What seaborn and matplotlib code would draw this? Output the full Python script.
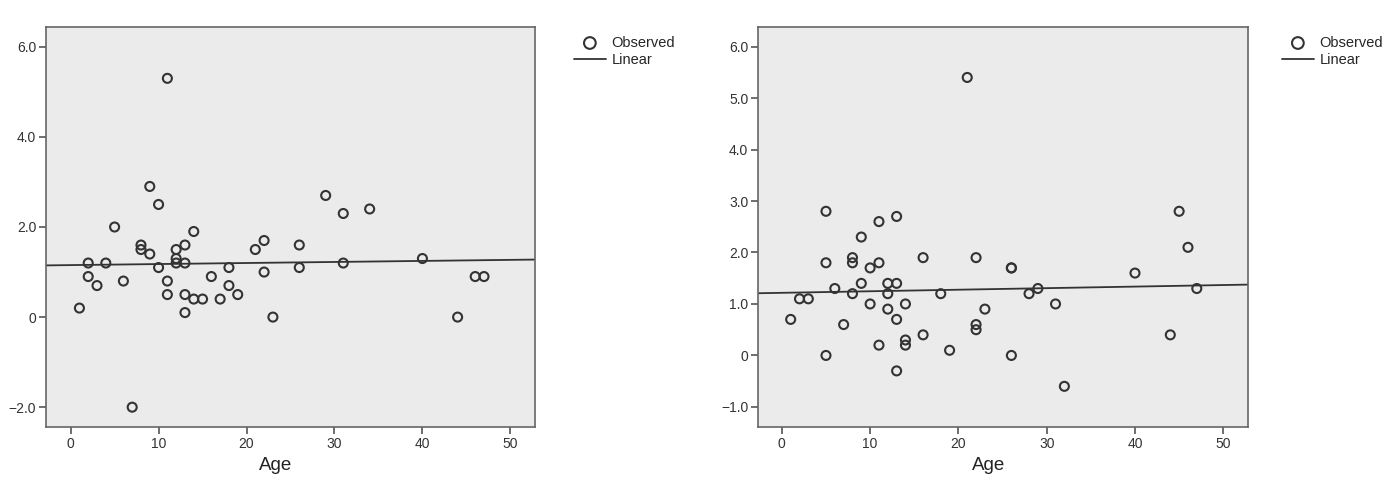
import numpy as np
import pandas as pd
import matplotlib
matplotlib.use("Agg")
import matplotlib.pyplot as plt
import seaborn as sns

# Left panel: observed values by age
age_left = [1, 2, 2, 3, 4, 5, 6, 7, 8, 8, 9, 9, 10, 10, 11, 11, 11, 12, 12, 12,
            13, 13, 13, 13, 14, 14, 15, 16, 17, 18, 18, 19, 21, 22, 22, 23, 26, 26,
            29, 31, 31, 34, 40, 44, 46, 47]
val_left = [0.2, 1.2, 0.9, 0.7, 1.2, 2.0, 0.8, -2.0, 1.6, 1.5, 1.4, 2.9, 2.5, 1.1, 5.3, 0.8, 0.5, 1.5, 1.3, 1.2,
            1.6, 1.2, 0.5, 0.1, 1.9, 0.4, 0.4, 0.9, 0.4, 1.1, 0.7, 0.5, 1.5, 1.7, 1.0, 0.0, 1.6, 1.1,
            2.7, 2.3, 1.2, 2.4, 1.3, 0.0, 0.9, 0.9]

# Right panel
age_right = [1, 2, 3, 5, 5, 5, 6, 7, 8, 8, 8, 9, 9, 10, 10, 11, 11, 11, 12, 12, 12,
             13, 13, 13, 13, 14, 14, 14, 16, 16, 18, 19, 21, 22, 22, 22, 23, 26, 26, 26,
             28, 29, 31, 32, 40, 44, 45, 46, 47]
val_right = [0.7, 1.1, 1.1, 2.8, 1.8, 0.0, 1.3, 0.6, 1.9, 1.8, 1.2, 2.3, 1.4, 1.7, 1.0, 2.6, 1.8, 0.2, 1.4, 1.2, 0.9,
             2.7, 1.4, 0.7, -0.3, 1.0, 0.3, 0.2, 1.9, 0.4, 1.2, 0.1, 5.4, 1.9, 0.6, 0.5, 0.9, 1.7, 1.7, 0.0,
             1.2, 1.3, 1.0, -0.6, 1.6, 0.4, 2.8, 2.1, 1.3]

x_ticks = [0, 10, 20, 30, 40, 50]
left_yticks = [-2.0, 0.0, 2.0, 4.0, 6.0]
left_ylabels = ["\u22122.0", "0", "2.0", "4.0", "6.0"]
right_yticks = [-1.0, 0.0, 1.0, 2.0, 3.0, 4.0, 5.0, 6.0]
right_ylabels = ["\u22121.0", "0", "1.0", "2.0", "3.0", "4.0", "5.0", "6.0"]

sns.set_style("white")
plt.rcParams["font.family"] = ["Liberation Sans", "DejaVu Sans"]

fig = plt.figure(figsize=(13.95, 4.8), dpi=100)
ax1 = fig.add_axes([46 / 1395, 53 / 480, 489 / 1395, 400 / 480])
ax2 = fig.add_axes([758 / 1395, 53 / 480, 490 / 1395, 400 / 480])

panels = [
    (ax1, age_left, val_left, (-2.8, 52.8), (-2.44, 6.44), left_yticks, left_ylabels, (590, 57)),
    (ax2, age_right, val_right, (-2.7, 52.8), (-1.39, 6.38), right_yticks, right_ylabels, (1298, 57)),
]

for ax, ages, vals, xlim, ylim, yt, yl, leg_pos in panels:
    df = pd.DataFrame({"Age": ages, "Value": vals})
    ax.set_facecolor("#ebebeb")
    ax.set_xlim(*xlim)
    ax.set_ylim(*ylim)
    sns.scatterplot(data=df, x="Age", y="Value", ax=ax, marker="o", s=42,
                    facecolors="none", edgecolor="#333333", linewidth=1.5,
                    label="Observed", zorder=3)
    sns.regplot(data=df, x="Age", y="Value", ax=ax, scatter=False, ci=None,
                truncate=False, line_kws={"color": "#333333", "lw": 1.3},
                label="Linear")
    ax.set_xlim(*xlim)
    ax.set_ylim(*ylim)
    ax.set_xticks(x_ticks)
    ax.set_xticklabels([str(t) for t in x_ticks])
    ax.set_yticks(yt)
    ax.set_yticklabels(yl)
    ax.tick_params(axis="both", which="both", direction="out", length=5, width=1.2,
                   color="#555555", labelsize=10, labelcolor="#333333", pad=2,
                   bottom=True, left=True)
    for sp in ax.spines.values():
        sp.set_color("#666666")
        sp.set_linewidth(1.2)
    ax.set_ylabel("")
    ax.set_xlabel("Age", fontsize=13.5, color="#222222")
    ax.xaxis.set_label_coords(0.47, -0.075)
    handles, labels = ax.get_legend_handles_labels()
    if ax.get_legend() is not None:
        ax.get_legend().remove()
    fig.legend(handles, labels, loc="upper left",
               bbox_to_anchor=((leg_pos[0] - 22) / 1395, 1 - 30 / 480),
               frameon=False, fontsize=10.5, handlelength=2.2, handletextpad=0.4,
               labelspacing=0.2, borderaxespad=0, markerscale=1.3)

fig.savefig("out.png", dpi=100)
